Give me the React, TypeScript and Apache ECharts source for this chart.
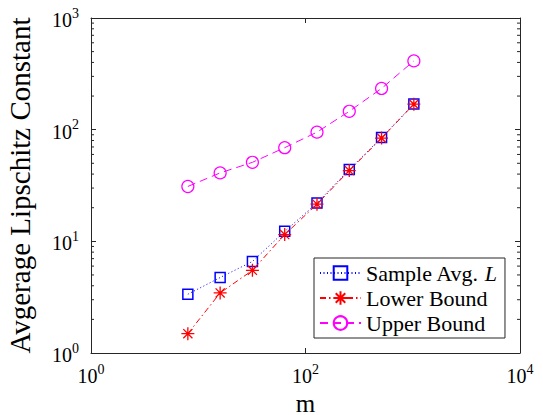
import React, { useEffect, useRef } from "react";
import * as echarts from "echarts";

const mValues = [8, 16, 32, 64, 128, 256, 512, 1024];
const sampleAvg = [3.36, 4.74, 6.6, 12.3, 22, 44, 85, 170];
const lowerBound = [1.49, 3.45, 5.5, 11.5, 21.5, 43, 84, 169];
const upperBound = [31, 41, 51, 69, 95, 146, 234, 413];
const seriesNames = ["Sample Avg. L", "Lower Bound", "Upper Bound"];
const yDecades = [1, 10, 100];
const minorMultipliers = [2, 3, 4, 5, 6, 7, 8, 9];

const FONT = "'Liberation Serif', 'Times New Roman', serif";
const AXIS_COLOR = "#262626";

export default function App() {
  const ref = useRef<HTMLDivElement>(null);
  useEffect(() => {
    if (!ref.current) return;
    const chart = echarts.init(ref.current, null, { renderer: "svg" });
    const pair = (ys: number[]) => mValues.map((x, i) => [x, ys[i]]);
    const minorTicks: number[][] = [];
    yDecades.forEach((d) => minorMultipliers.forEach((k) => minorTicks.push([1, d * k])));

    const labelRich = {
      b: { fontFamily: FONT, fontSize: 20, color: "#000", lineHeight: 24, verticalAlign: "bottom" },
      s: { fontFamily: FONT, fontSize: 14, color: "#000", lineHeight: 24, verticalAlign: "top" },
    };
    const fmt = (v: number) => "{b|10}{s|" + Math.round(Math.log10(v)) + "}";

    chart.setOption({
      animation: false,
      backgroundColor: "#fff",
      textStyle: { fontFamily: FONT },
      grid: { left: 91, right: 23, top: 18, bottom: 62, containLabel: false, outerBoundsMode: "none" },
      legend: {
        data: seriesNames,
        orient: "vertical",
        left: 314,
        top: 258,
        backgroundColor: "#fff",
        borderColor: AXIS_COLOR,
        borderWidth: 1,
        borderRadius: 0,
        padding: [4, 8, 4, 5],
        itemGap: 3,
        itemWidth: 41,
        itemHeight: 17,
        formatter: (name: string) => (name === "Sample Avg. L" ? "Sample Avg. {i|L}" : name),
        textStyle: {
          fontFamily: FONT,
          fontSize: 22,
          color: "#000",
          rich: { i: { fontFamily: FONT, fontSize: 22, fontStyle: "italic", color: "#000" } },
        },
      },
      xAxis: [
        {
          type: "log",
          logBase: 10,
          min: 1,
          max: 10000,
          interval: 2,
          name: "m",
          nameLocation: "middle",
          nameGap: 28,
          nameTextStyle: { fontFamily: FONT, fontSize: 25, color: "#000", lineHeight: 25 },
          axisLine: { lineStyle: { color: AXIS_COLOR, width: 1 } },
          axisTick: { inside: true, length: 5, lineStyle: { color: AXIS_COLOR } },
          axisLabel: { formatter: fmt, rich: labelRich, margin: 9 },
          splitLine: { show: false },
        },
        {
          type: "log",
          logBase: 10,
          min: 1,
          max: 10000,
          interval: 2,
          position: "top",
          axisLine: { lineStyle: { color: AXIS_COLOR, width: 1 } },
          axisTick: { inside: true, length: 5, lineStyle: { color: AXIS_COLOR } },
          axisLabel: { show: false },
          splitLine: { show: false },
        },
      ],
      yAxis: [
        {
          type: "log",
          logBase: 10,
          min: 1,
          max: 1000,
          interval: 1,
          name: "Avgerage Lipschitz Constant",
          nameLocation: "middle",
          nameGap: 57,
          nameTextStyle: { fontFamily: FONT, fontSize: 29, color: "#000" },
          axisLine: { lineStyle: { color: AXIS_COLOR, width: 1 } },
          axisTick: { inside: true, length: 5, lineStyle: { color: AXIS_COLOR } },
          axisLabel: { formatter: fmt, rich: labelRich, margin: 12 },
          splitLine: { show: false },
        },
        {
          type: "log",
          logBase: 10,
          min: 1,
          max: 1000,
          interval: 1,
          position: "right",
          axisLine: { lineStyle: { color: AXIS_COLOR, width: 1 } },
          axisTick: { inside: true, length: 5, lineStyle: { color: AXIS_COLOR } },
          axisLabel: { show: false },
          splitLine: { show: false },
        },
      ],
      series: [
        {
          name: seriesNames[0],
          type: "line",
          data: pair(sampleAvg),
          symbol: "rect",
          symbolSize: 10,
          lineStyle: { color: "#0000ff", width: 1, type: [1, 2.5] },
          itemStyle: { color: "rgba(0,0,0,0)", borderColor: "#0000ff", borderWidth: 1.5 },
          z: 3,
        },
        {
          name: seriesNames[1],
          type: "line",
          data: pair(lowerBound),
          symbol: "path://M0,5L10,5M5,0L5,10M1.5,1.5L8.5,8.5M1.5,8.5L8.5,1.5",
          symbolSize: 13,
          lineStyle: { color: "#ff0000", width: 1, type: [6, 3, 1.5, 3] },
          itemStyle: { color: "#ff0000", borderColor: "#ff0000", borderWidth: 1.3 },
          z: 4,
        },
        {
          name: seriesNames[2],
          type: "line",
          data: pair(upperBound),
          symbol: "circle",
          symbolSize: 12,
          lineStyle: { color: "#ff00ff", width: 1, type: [8, 5] },
          itemStyle: { color: "rgba(0,0,0,0)", borderColor: "#ff00ff", borderWidth: 1.2 },
          z: 3,
        },
        {
          name: "minorTicks",
          type: "custom",
          silent: true,
          clip: false,
          data: minorTicks,
          renderItem: (params: any, api: any) => {
            const y = api.value(1);
            const pl = api.coord([1, y]);
            const pr = api.coord([10000, y]);
            return {
              type: "group",
              children: [
                { type: "line", shape: { x1: pl[0], y1: pl[1], x2: pl[0] + 3, y2: pl[1] }, style: { stroke: AXIS_COLOR, lineWidth: 1 } },
                { type: "line", shape: { x1: pr[0] - 3, y1: pr[1], x2: pr[0], y2: pr[1] }, style: { stroke: AXIS_COLOR, lineWidth: 1 } },
              ],
            };
          },
        },
      ],
    });
    return () => chart.dispose();
  }, []);
  return <div ref={ref} style={{ position: "fixed", left: 0, top: 0, width: 543, height: 415 }} />;
}
